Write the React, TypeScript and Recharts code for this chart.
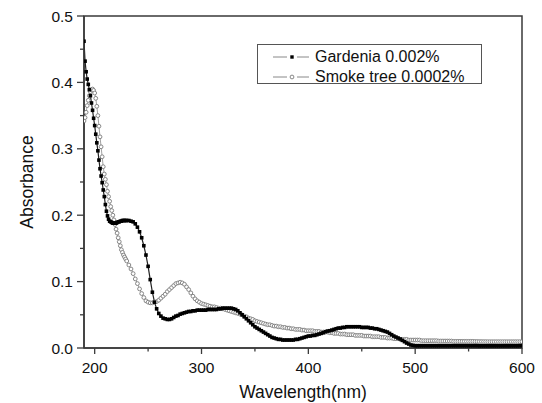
// UV-Vis absorbance spectra of two natural dyes (gardenia vs. smoke tree).
// Dense scan data drawn as marker-only-looking lines, Origin-style frame,
// minor ticks done through custom tick renderers.

import { LineChart, Line, XAxis, YAxis, ReferenceArea, Legend } from 'recharts'

const FONT = '"Liberation Sans", Arial, Helvetica, sans-serif'
const AXIS = '#3a3a3a'

// ── Data ─────────────────────────────────────────────────────────────────────
// scan grid: 1 nm steps in the steep UV part, 2 nm after that
function steps(from: number, to: number, by: number) {
  const out: number[] = []
  for (let v = from; v <= to; v += by) out.push(v)
  return out
}
const NM_FINE = steps(190, 229, 1)
const NM_COARSE = steps(230, 600, 2)

// 190 – 229 nm
const GARDENIA_FINE = [
  0.462, 0.432, 0.416, 0.405, 0.397, 0.389, 0.380, 0.369, 0.358, 0.346,
  0.335, 0.322, 0.309, 0.297, 0.283, 0.270, 0.259, 0.249, 0.238, 0.228,
  0.216, 0.206, 0.199, 0.194, 0.191, 0.190, 0.189, 0.188, 0.188, 0.188,
  0.188, 0.189, 0.190, 0.190, 0.191, 0.191, 0.192, 0.192, 0.192, 0.192,
]
// 230 – 600 nm, one row = 20 nm
const GARDENIA_COARSE = [
  0.192, 0.192, 0.191, 0.190, 0.187, 0.182, 0.175, 0.166, 0.154, 0.140, // 230
  0.123, 0.103, 0.084, 0.069, 0.059, 0.052, 0.048, 0.045, 0.044, 0.043, // 250
  0.043, 0.044, 0.046, 0.048, 0.049, 0.051, 0.052, 0.053, 0.054, 0.055, // 270
  0.055, 0.056, 0.056, 0.057, 0.057, 0.057, 0.057, 0.057, 0.058, 0.058, // 290
  0.058, 0.058, 0.058, 0.059, 0.059, 0.060, 0.060, 0.060, 0.060, 0.060, // 310
  0.059, 0.058, 0.056, 0.053, 0.050, 0.047, 0.044, 0.041, 0.038, 0.035, // 330
  0.032, 0.030, 0.028, 0.026, 0.024, 0.022, 0.020, 0.018, 0.016, 0.015, // 350
  0.014, 0.013, 0.013, 0.012, 0.012, 0.012, 0.012, 0.012, 0.012, 0.013, // 370
  0.013, 0.014, 0.015, 0.016, 0.017, 0.018, 0.018, 0.019, 0.019, 0.020, // 390
  0.021, 0.022, 0.023, 0.0245, 0.0255, 0.026, 0.027, 0.028, 0.029, 0.030, // 410
  0.030, 0.031, 0.031, 0.032, 0.032, 0.032, 0.032, 0.032, 0.032, 0.032, // 430
  0.031, 0.031, 0.031, 0.031, 0.030, 0.030, 0.029, 0.029, 0.028, 0.027, // 450
  0.026, 0.025, 0.024, 0.022, 0.020, 0.018, 0.0165, 0.015, 0.0135, 0.0115, // 470
  0.0095, 0.0075, 0.006, 0.0045, 0.004, 0.0035, 0.0035, 0.0035, 0.0035, 0.0035, // 490
  0.0035, 0.0035, 0.0035, 0.0035, 0.0035, 0.0035, 0.0035, 0.0035, 0.0035, 0.0035, // 510
  0.0035, 0.0035, 0.0035, 0.0035, 0.0035, 0.0035, 0.0035, 0.0035, 0.0035, 0.0035, // 530
  0.0035, 0.0035, 0.0035, 0.0035, 0.0035, 0.0033, 0.0033, 0.0033, 0.0033, 0.0033, // 550
  0.0033, 0.0033, 0.0033, 0.0033, 0.0033, 0.0033, 0.0033, 0.0033, 0.0033, 0.0033, // 570
  0.0033, 0.0033, 0.0033, 0.0033, 0.0035, 0.0035, // 590 – 600
]

const SMOKE_FINE = [
  0.342, 0.347, 0.355, 0.365, 0.373, 0.380, 0.386, 0.389, 0.390, 0.388,
  0.384, 0.376, 0.364, 0.350, 0.334, 0.318, 0.303, 0.288, 0.273, 0.262,
  0.254, 0.246, 0.236, 0.228, 0.221, 0.213, 0.207, 0.200, 0.193, 0.186,
  0.179, 0.173, 0.166, 0.160, 0.154, 0.148, 0.144, 0.140, 0.137, 0.134,
]
const SMOKE_COARSE = [
  0.131, 0.125, 0.119, 0.112, 0.104, 0.097, 0.089, 0.082, 0.076, 0.071, // 230
  0.069, 0.068, 0.068, 0.069, 0.070, 0.072, 0.075, 0.078, 0.081, 0.085, // 250
  0.088, 0.091, 0.094, 0.097, 0.098, 0.099, 0.098, 0.096, 0.092, 0.088, // 270
  0.083, 0.078, 0.074, 0.071, 0.069, 0.067, 0.066, 0.065, 0.064, 0.063, // 290
  0.062, 0.062, 0.061, 0.060, 0.060, 0.059, 0.058, 0.057, 0.056, 0.055, // 310
  0.054, 0.053, 0.052, 0.051, 0.050, 0.048, 0.047, 0.045, 0.044, 0.043, // 330
  0.041, 0.040, 0.039, 0.038, 0.037, 0.036, 0.035, 0.035, 0.034, 0.033, // 350
  0.033, 0.032, 0.032, 0.031, 0.031, 0.030, 0.030, 0.029, 0.029, 0.028, // 370
  0.028, 0.028, 0.027, 0.027, 0.026, 0.026, 0.026, 0.026, 0.025, 0.025, // 390
  0.025, 0.024, 0.024, 0.024, 0.024, 0.023, 0.023, 0.022, 0.022, 0.022, // 410
  0.021, 0.021, 0.021, 0.020, 0.020, 0.020, 0.020, 0.019, 0.019, 0.019, // 430
  0.019, 0.018, 0.018, 0.018, 0.018, 0.017, 0.017, 0.017, 0.017, 0.016, // 450
  0.016, 0.016, 0.015, 0.015, 0.015, 0.014, 0.014, 0.014, 0.013, 0.013, // 470
  0.013, 0.013, 0.012, 0.012, 0.012, 0.012, 0.012, 0.012, 0.011, 0.011, // 490
  0.011, 0.011, 0.011, 0.011, 0.011, 0.011, 0.0105, 0.0105, 0.0105, 0.0105, // 510
  0.0105, 0.0105, 0.0105, 0.010, 0.010, 0.010, 0.010, 0.010, 0.010, 0.010, // 530
  0.010, 0.010, 0.010, 0.0098, 0.0098, 0.0097, 0.0097, 0.0096, 0.0096, 0.0095, // 550
  0.0095, 0.0095, 0.0095, 0.0095, 0.0095, 0.0095, 0.0095, 0.0095, 0.0095, 0.0095, // 570
  0.0095, 0.0095, 0.0095, 0.0095, 0.0095, 0.0095, // 590 – 600
]

const SERIES_NAMES = ['Gardenia 0.002%', 'Smoke tree 0.0002%']

const X_TICKS = [200, 250, 300, 350, 400, 450, 500, 550, 600]
const Y_TICKS = [0, 0.05, 0.1, 0.15, 0.2, 0.25, 0.3, 0.35, 0.4, 0.45, 0.5]

const wavelengths = [...NM_FINE, ...NM_COARSE]
const gardenia = [...GARDENIA_FINE, ...GARDENIA_COARSE]
const smoke = [...SMOKE_FINE, ...SMOKE_COARSE]
const data = wavelengths.map((nm, i) => ({ nm, gardenia: gardenia[i], smoke: smoke[i] }))

// ── Ticks (major + minor, outward) ───────────────────────────────────────────
function XTick({ x, y, payload }: any) {
  const major = payload.value % 100 === 0
  return (
    <g>
      <line x1={x} x2={x} y1={y} y2={y + (major ? 6 : 3.5)} stroke={AXIS} strokeWidth={1.3} />
      {major && (
        <text x={x} y={y + 24.5} textAnchor="middle" fontSize={15.5} fontFamily={FONT} fill="#111">
          {payload.value}
        </text>
      )}
    </g>
  )
}

function YTick({ x, y, payload }: any) {
  const major = Math.round(payload.value * 100) % 10 === 0
  return (
    <g>
      <line x1={x} x2={x - (major ? 7 : 4)} y1={y} y2={y} stroke={AXIS} strokeWidth={1.3} />
      {major && (
        <text x={x - 11} y={y} dy={5.5} textAnchor="end" fontSize={15.5} fontFamily={FONT} fill="#111">
          {payload.value.toFixed(1)}
        </text>
      )}
    </g>
  )
}

// ── Axis titles ──────────────────────────────────────────────────────────────
const renderYTitle = ({ viewBox }: any) => {
  const cx = viewBox.x + 33
  const cy = viewBox.y + viewBox.height / 2
  return (
    <text x={cx} y={cy} transform={`rotate(-90 ${cx} ${cy})`} textAnchor="middle"
      fontSize={17.5} fontFamily={FONT} fill="#111">
      Absorbance
    </text>
  )
}

// reference has this title flush with the bottom edge; keep descenders inside
const renderXTitle = ({ viewBox }: any) => (
  <text x={viewBox.x + viewBox.width / 2} y={viewBox.y + 50} textAnchor="middle"
    fontSize={17.5} fontFamily={FONT} fill="#111">
    Wavelength(nm)
  </text>
)

// ── Markers ──────────────────────────────────────────────────────────────────
const squareDot = (p: any) => (
  <rect key={`g${p.index}`} x={p.cx - 1.8} y={p.cy - 1.8} width={3.6} height={3.6} fill="#000" />
)
const circleDot = (p: any) => (
  <circle key={`s${p.index}`} cx={p.cx} cy={p.cy} r={1.9} fill="#fff" stroke="#7a7a7a" strokeWidth={0.9} />
)

// ── Legend box ───────────────────────────────────────────────────────────────
function LegendBox() {
  return (
    <div style={{
      width: 225, height: 40, boxSizing: 'border-box', border: '1px solid #555',
      background: '#fff', paddingTop: 2, fontFamily: FONT, fontSize: 16, color: '#111',
    }}>
      {SERIES_NAMES.map((name, i) => (
        <div key={name} style={{ display: 'flex', alignItems: 'center', height: 20 }}>
          <svg width={36} height={20} style={{ marginLeft: 15, flex: 'none' }}>
            <line x1={0} x2={14} y1={10} y2={10} stroke="#888" strokeWidth={1} />
            <line x1={24} x2={36} y1={10} y2={10} stroke="#888" strokeWidth={1} />
            {i === 0
              ? <rect x={17.3} y={8.3} width={3.4} height={3.4} fill="#000" />
              : <circle cx={19} cy={10} r={1.9} fill="#fff" stroke="#7a7a7a" strokeWidth={0.9} />}
          </svg>
          <span style={{ marginLeft: 6, whiteSpace: 'nowrap' }}>{name}</span>
        </div>
      ))}
    </div>
  )
}

export default function App() {
  return (
    <div style={{ position: 'absolute', left: 0, top: 0, background: '#fff' }}>
      <LineChart width={542} height={403} data={data}
        margin={{ top: 16, right: 20, bottom: 0, left: 0 }}>
        <XAxis dataKey="nm" type="number" domain={[190, 600]} ticks={X_TICKS} interval={0}
          allowDataOverflow height={55} tickLine={false} tickSize={0} tickMargin={0}
          axisLine={{ stroke: AXIS, strokeWidth: 1.5 }} tick={<XTick />}
          label={{ content: renderXTitle }} />
        <YAxis type="number" domain={[0, 0.5]} ticks={Y_TICKS} interval={0}
          allowDataOverflow width={84} tickLine={false} tickSize={0} tickMargin={0}
          axisLine={{ stroke: AXIS, strokeWidth: 1.5 }} tick={<YTick />}
          label={{ content: renderYTitle }} />

        {/* plot frame (top + right borders) */}
        <ReferenceArea x1={190} x2={600} y1={0} y2={0.5} fill="none" fillOpacity={0}
          stroke={AXIS} strokeWidth={1.5} strokeOpacity={1} />

        <Legend layout="vertical" align="center" verticalAlign="middle"
          content={<LegendBox />} wrapperStyle={{ left: 257, top: 44, width: 'auto' }} />

        <Line type="linear" dataKey="smoke" name={SERIES_NAMES[1]} stroke="#8a8a8a" strokeWidth={0.8}
          dot={circleDot} activeDot={false} isAnimationActive={false} />
        <Line type="linear" dataKey="gardenia" name={SERIES_NAMES[0]} stroke="#222" strokeWidth={1.2}
          dot={squareDot} activeDot={false} isAnimationActive={false} />
      </LineChart>
    </div>
  )
}
